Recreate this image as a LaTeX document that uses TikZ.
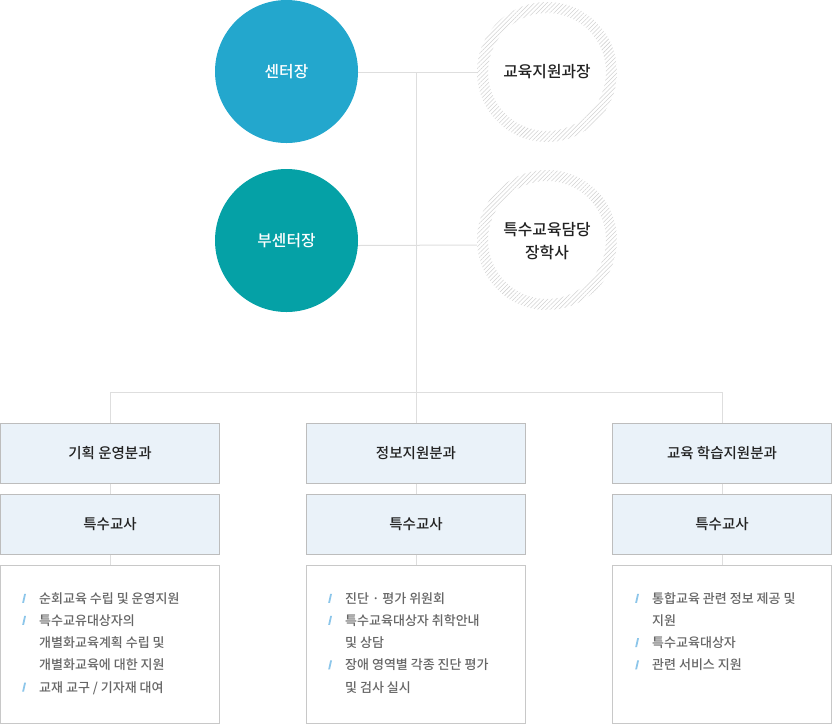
\documentclass[tikz,border=0pt]{standalone}
\usepackage{fontspec}
\setmainfont{Noto Sans CJK KR}
\newfontfamily\krmed{Noto Sans CJK KR}[UprightFont=* Medium]
\usetikzlibrary{patterns.meta}
\definecolor{ctrblue}{HTML}{23A7CD}
\definecolor{ctrteal}{HTML}{05A1A6}
\definecolor{boxfill}{HTML}{EAF2F9}
\definecolor{boxline}{HTML}{BDBDBD}
\definecolor{descline}{HTML}{C8C8C8}
\definecolor{conn}{HTML}{DEDEDE}
\definecolor{txtgray}{HTML}{666666}
\definecolor{txtdark}{HTML}{222222}
\definecolor{bulblue}{HTML}{8CC6EA}
\definecolor{hatchgray}{HTML}{D2D2D2}
\newcommand\bul{\tikz[x=1pt,y=1pt,baseline=0pt]\fill[bulblue] (0.6,0.5) -- (2.4,0.5) -- (4.4,9.5) -- (2.6,9.5) -- cycle;}
\tikzset{
  bigcirc/.style={circle, minimum size=143pt, inner sep=0pt, text=white,
    font=\krmed\fontsize{15.8}{23.5}\selectfont, align=center},
  hatchcirc/.style={circle, minimum size=140pt, inner sep=0pt, text=txtdark,
    font=\krmed\fontsize{15.8}{23.5}\selectfont, align=center},
  titlebox/.style={rectangle, draw=boxline, fill=boxfill, line width=1pt,
    minimum width=219pt, minimum height=60pt, inner sep=0pt, text=txtdark,
    font=\krmed\fontsize{14.5}{16}\selectfont},
  descbox/.style={rectangle, draw=descline, fill=white, line width=1pt,
    minimum width=219pt, minimum height=158pt, inner sep=0pt},
  desctext/.style={anchor=north west, inner sep=0pt, text=txtgray,
    font=\krmed\fontsize{13}{22.2}\selectfont},
  connline/.style={draw=conn, line width=1pt},
  ring/.style={pattern={Lines[angle=45, distance=3pt, line width=0.55pt]},
    pattern color=hatchgray, even odd rule}
}
\begin{document}
\begin{tikzpicture}[x=1pt,y=-1pt]
\useasboundingbox (0,0) rectangle (832,724);
% hatched rings
\fill[ring] (547,72) circle[radius=70pt] (547,72) circle[radius=59pt];
\fill[ring] (547,240) circle[radius=70pt] (547,240) circle[radius=59pt];
% nodes
\node[hatchcirc] (h1) at (547,72) {교육지원과장};
\node[hatchcirc] (h2) at (547,241) {특수교육담당\\장학사};
\coordinate (j1) at (416,72);
\coordinate (bus) at (416,392);
% connectors behind circles
\draw[connline] (358,72) -- (h1.west);
\draw[connline] (j1) -- (bus);
\node[bigcirc, fill=ctrblue] (c1) at (286.5,71.5) {센터장};
\node[bigcirc, fill=ctrteal] (c2) at (286.5,240.5) {부센터장};
\draw[connline] ([yshift=-5pt]c2.east) -- ([yshift=-4pt]h2.west);
% boxes
\node[titlebox] (t1) at (110,453) {기획 운영분과};
\node[titlebox] (t2) at (416,453) {정보지원분과};
\node[titlebox] (t3) at (722,453) {교육 학습지원분과};
\node[titlebox] (s1) at (110,524) {특수교사};
\node[titlebox] (s2) at (416,524) {특수교사};
\node[titlebox] (s3) at (722,524) {특수교사};
\node[descbox] (d1) at (110,644) {};
\node[descbox] (d2) at (416,644) {};
\node[descbox] (d3) at (722,644) {};
% connectors between boxes
\draw[connline] (t1.north) |- (bus) -| (t3.north);
\draw[connline] (bus) -- (t2.north);
\foreach \i in {1,2,3}{
  \draw[connline] (t\i.south) -- (s\i.north);
  \draw[connline] (s\i.south) -- (d\i.north);
}
% description texts
\node[desctext] (x1) at (22,587.5) {\begin{tabular}{@{}p{17pt}@{}l@{}}
\bul & 순회교육 수립 및 운영지원\\
\bul & 특수교유대상자의\\
 & 개별화교육계획 수립 및\\
 & 개별화교육에 대한 지원\\
\bul & 교재 교구 / 기자재 대여
\end{tabular}};
\node[desctext] (x2) at (328,587.5) {\begin{tabular}{@{}p{17pt}@{}l@{}}
\bul & 진단 · 평가 위원회\\
\bul & 특수교육대상자 취학안내\\
 & 및 상담\\
\bul & 장애 영역별 각종 진단 평가\\
 & 및 검사 실시
\end{tabular}};
\node[desctext] (x3) at (635,587.5) {\begin{tabular}{@{}p{17pt}@{}l@{}}
\bul & 통합교육 관련 정보 제공 및\\
 & 지원\\
\bul & 특수교육대상자\\
\bul & 관련 서비스 지원
\end{tabular}};
\end{tikzpicture}
\end{document}
